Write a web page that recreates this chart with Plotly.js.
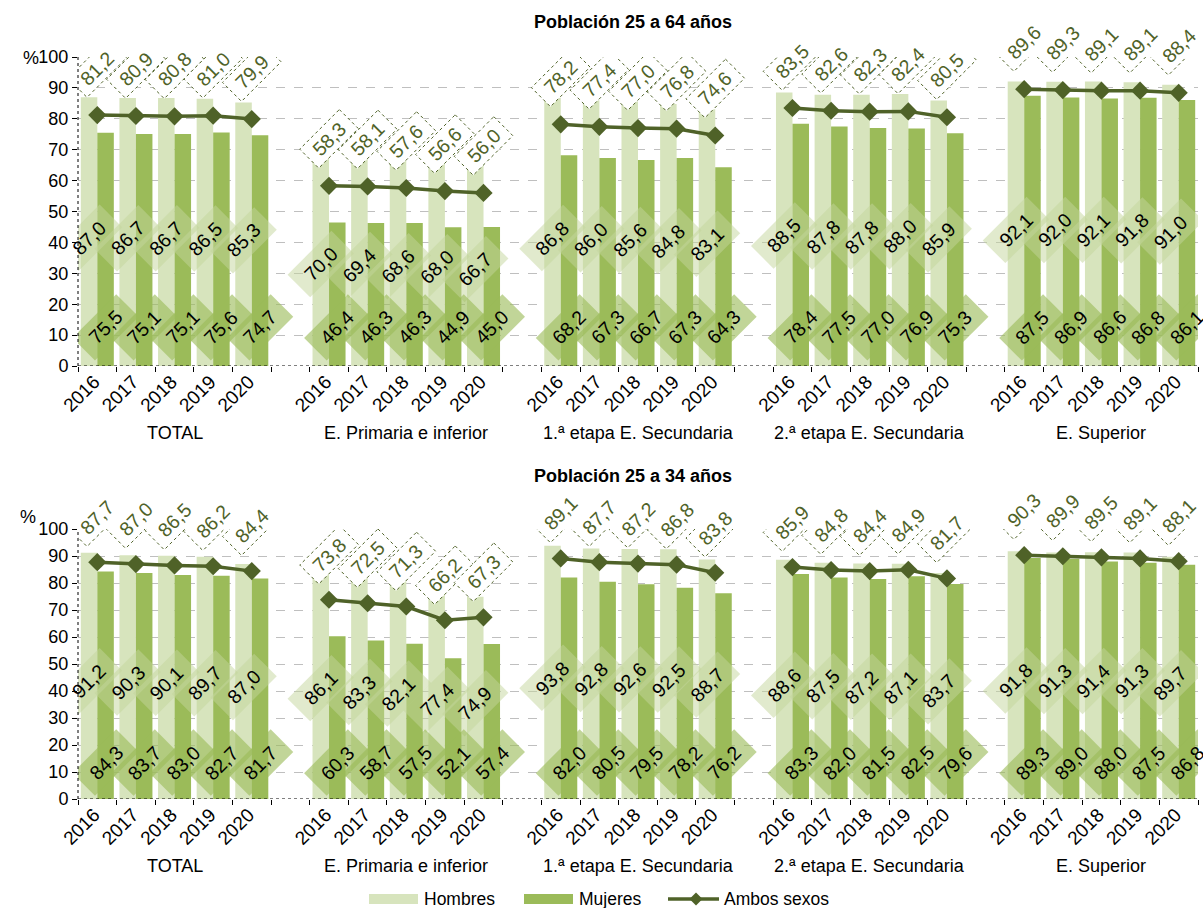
<!DOCTYPE html>
<html><head><meta charset="utf-8">
<script src="https://cdn.plot.ly/plotly-3.0.1.min.js"></script>
<style>html,body{margin:0;padding:0;background:#fff}#chart{width:1203px;height:908px}</style>
</head><body><div id="chart"></div>
<script>
// ---------- DATA ----------
const groups = ["TOTAL", "E. Primaria e inferior", "1.ª etapa E. Secundaria", "2.ª etapa E. Secundaria", "E. Superior"];
const years = ["2016", "2017", "2018", "2019", "2020"];
const panelTitles = ["Población 25 a 64 años", "Población 25 a 34 años"];
const seriesNames = ["Hombres", "Mujeres", "Ambos sexos"];

const hombres64 = [87.0,86.7,86.7,86.5,85.3, 70.0,69.4,68.6,68.0,66.7, 86.8,86.0,85.6,84.8,83.1, 88.5,87.8,87.8,88.0,85.9, 92.1,92.0,92.1,91.8,91.0];
const mujeres64 = [75.5,75.1,75.1,75.6,74.7, 46.4,46.3,46.3,44.9,45.0, 68.2,67.3,66.7,67.3,64.3, 78.4,77.5,77.0,76.9,75.3, 87.5,86.9,86.6,86.8,86.1];
const ambos64   = [81.2,80.9,80.8,81.0,79.9, 58.3,58.1,57.6,56.6,56.0, 78.2,77.4,77.0,76.8,74.6, 83.5,82.6,82.3,82.4,80.5, 89.6,89.3,89.1,89.1,88.4];

const hombres34 = [91.2,90.3,90.1,89.7,87.0, 86.1,83.3,82.1,77.4,74.9, 93.8,92.8,92.6,92.5,88.7, 88.6,87.5,87.2,87.1,83.7, 91.8,91.3,91.4,91.3,89.7];
const mujeres34 = [84.3,83.7,83.0,82.7,81.7, 60.3,58.7,57.5,52.1,57.4, 82.0,80.5,79.5,78.2,76.2, 83.3,82.0,81.5,82.5,79.6, 89.3,89.0,88.0,87.5,86.8];
const ambos34   = [87.7,87.0,86.5,86.2,84.4, 73.8,72.5,71.3,66.2,67.3, 89.1,87.7,87.2,86.8,83.8, 85.9,84.8,84.4,84.9,81.7, 90.3,89.9,89.5,89.1,88.1];

// ---------- STYLE ----------
const FONT = "Liberation Sans, Arial, sans-serif";
const C_H = "#d7e4bd", C_M = "#9bbb59", C_A = "#4f6228";
const W = 1203, H = 908, ML = 78, MR = 5, MT = 57, MB = 109;
const plotW = W - ML - MR, plotH = H - MT - MB;
const topPanel = {y0px: 57, y1px: 366};
const botPanel = {y0px: 529, y1px: 799};
const pyToPaper = py => (H - MB - py) / plotH;
const pxToPaper = px => (px - ML) / plotW;

const nG = groups.length, nY = years.length, step = nY + 1;
const xs = [], tickText = [];
groups.forEach((g, gi) => years.forEach((y, yi) => { xs.push(gi * step + yi); tickText.push(y); }));
const lineX = [], idxMap = [];
groups.forEach((g, gi) => { years.forEach((y, yi) => { lineX.push(gi * step + yi); idxMap.push(gi * nY + yi); }); if (gi < nG - 1) { lineX.push(gi * step + nY); idxMap.push(-1); } });
const fmt = v => v.toFixed(1).replace(".", ",");

function rectPath(a, b, dy) {
  const k = Math.SQRT1_2;
  const pts = [[k*(a-b), k*(a+b)], [k*(a+b), k*(a-b)], [-k*(a-b), -k*(a+b)], [-k*(a+b), -k*(a-b)]];
  return "M" + pts.map(p => p[0].toFixed(1) + "," + (p[1] + dy).toFixed(1)).join(" L") + " Z";
}

const traces = [], shapes = [], annotations = [];
const panels = [
  {h: hombres64, m: mujeres64, a: ambos64, xa: "x", ya: "y", mujY: 12.5, shift: 47},
  {h: hombres34, m: mujeres34, a: ambos34, xa: "x2", ya: "y2", mujY: 13.5, shift: 45}
];
const barOff = 0.214;
const LBL = 19.5;
panels.forEach((p, pi) => {
  traces.push({type: "bar", name: seriesNames[0], x: xs, y: p.h, xaxis: p.xa, yaxis: p.ya, marker: {color: C_H}, showlegend: false, hoverinfo: "none"});
  traces.push({type: "bar", name: seriesNames[1], x: xs, y: p.m, xaxis: p.xa, yaxis: p.ya, marker: {color: C_M}, showlegend: false, hoverinfo: "none"});
  traces.push({type: "scatter", mode: "lines+markers", name: seriesNames[2], x: lineX, y: idxMap.map(i => i < 0 ? null : p.a[i]),
    xaxis: p.xa, yaxis: p.ya, connectgaps: false, line: {color: C_A, width: 3.5}, marker: {symbol: "diamond", size: 14, color: C_A}, showlegend: false, hoverinfo: "none"});
  const xr = p.xa, yr = p.ya;
  xs.forEach((x, i) => {
    const yv = p.h[i] / 2 - 2;
    shapes.push({type: "path", xref: xr, yref: yr, xsizemode: "pixel", ysizemode: "pixel", xanchor: x - barOff, yanchor: yv,
      path: rectPath(31, 16, 0), fillcolor: "rgba(195,214,155,0.5)", line: {width: 0}, layer: "above"});
    annotations.push({xref: xr, yref: yr, x: x - barOff, y: yv, yanchor: "middle", text: fmt(p.h[i]), showarrow: false, textangle: -45,
      font: {family: FONT, size: LBL, color: "#000"}});
  });
  xs.forEach((x, i) => {
    shapes.push({type: "path", xref: xr, yref: yr, xsizemode: "pixel", ysizemode: "pixel", xanchor: x + barOff, yanchor: p.mujY,
      path: rectPath(31, 16, 0), fillcolor: "rgba(155,187,89,0.62)", line: {width: 0}, layer: "above"});
    annotations.push({xref: xr, yref: yr, x: x + barOff, y: p.mujY, yanchor: "middle", text: fmt(p.m[i]), showarrow: false, textangle: -45,
      font: {family: FONT, size: LBL, color: "#000"}});
  });
  xs.forEach((x, i) => {
    shapes.push({type: "path", xref: xr, yref: yr, xsizemode: "pixel", ysizemode: "pixel", xanchor: x, yanchor: p.a[i],
      path: rectPath(28, 13.5, p.shift), fillcolor: "#ffffff", line: {width: 1, color: C_A, dash: "dot"}, layer: "above"});
    annotations.push({xref: xr, yref: yr, x: x, y: p.a[i], yanchor: "middle", yshift: p.shift, text: fmt(p.a[i]), showarrow: false, textangle: -45,
      font: {family: FONT, size: LBL, color: C_A}});
  });
  shapes.push({type: "line", xref: xr + " domain", yref: yr, x0: 0, x1: 0, y0: 0, y1: 100, line: {color: "#000", width: 1, dash: "dot"}, layer: "above"});
  shapes.push({type: "line", xref: xr + " domain", yref: yr, x0: 0, x1: 1, y0: 0, y1: 0, line: {color: "#000", width: 1, dash: "dot"}, layer: "above"});
  groups.forEach((g, gi) => {
    annotations.push({xref: xr, yref: yr, x: gi * step + (nY - 1) / 2, y: 0, yanchor: "middle", yshift: -67, text: g, showarrow: false,
      font: {family: FONT, size: 18, color: "#000"}});
  });
});
annotations.push({xref: "paper", yref: "paper", x: pxToPaper(633), y: pyToPaper(22), yanchor: "middle", text: "<b>" + panelTitles[0] + "</b>", showarrow: false, font: {family: FONT, size: 18, color: "#000"}});
annotations.push({xref: "paper", yref: "paper", x: pxToPaper(633), y: pyToPaper(476), yanchor: "middle", text: "<b>" + panelTitles[1] + "</b>", showarrow: false, font: {family: FONT, size: 18, color: "#000"}});
annotations.push({xref: "paper", yref: "paper", x: pxToPaper(21), y: pyToPaper(58), yanchor: "middle", text: "%", showarrow: false, font: {family: FONT, size: 18, color: "#000"}});
annotations.push({xref: "paper", yref: "paper", x: pxToPaper(18), y: pyToPaper(517), yanchor: "middle", text: "%", showarrow: false, font: {family: FONT, size: 18, color: "#000"}});

// manual legend
const legY = 899;
shapes.push({type: "rect", xref: "paper", yref: "paper", x0: pxToPaper(369), x1: pxToPaper(418), y0: pyToPaper(894), y1: pyToPaper(904), fillcolor: C_H, line: {width: 0}});
shapes.push({type: "rect", xref: "paper", yref: "paper", x0: pxToPaper(524), x1: pxToPaper(573), y0: pyToPaper(894), y1: pyToPaper(904), fillcolor: C_M, line: {width: 0}});
shapes.push({type: "line", xref: "paper", yref: "paper", x0: pxToPaper(668), x1: pxToPaper(719), y0: pyToPaper(legY), y1: pyToPaper(legY), line: {color: C_A, width: 3.5}});
shapes.push({type: "path", xref: "paper", yref: "paper", xsizemode: "pixel", ysizemode: "pixel", xanchor: pxToPaper(696), yanchor: pyToPaper(legY),
  path: "M0,6.5 L6.5,0 L0,-6.5 L-6.5,0 Z", fillcolor: C_A, line: {width: 0}});
[[seriesNames[0], 422], [seriesNames[1], 577], [seriesNames[2], 722]].forEach(([t, px]) => {
  annotations.push({xref: "paper", yref: "paper", x: pxToPaper(px), y: pyToPaper(legY), xanchor: "left", yanchor: "middle", text: t, showarrow: false, font: {family: FONT, size: 17.5, color: "#000"}});
});

const xaxisBase = {range: [-0.5, xs[xs.length - 1] + 0.5], tickmode: "array", tickvals: xs, ticktext: tickText, tickangle: -45,
  ticks: "", showgrid: false, zeroline: false, showline: false, tickfont: {family: FONT, size: 19, color: "#000"}, ticklabelshift: -3,
  minor: {tickmode: "linear", tick0: -0.5, dtick: 1, ticks: "outside", ticklen: 5, tickcolor: "#000", tickwidth: 1, showgrid: false}};
const yaxisBase = {range: [0, 100], dtick: 10, tick0: 0, ticks: "outside", ticklen: 5, tickcolor: "#000", showline: false, zeroline: false,
  showgrid: true, gridcolor: "#bfbfbf", griddash: "dash", gridwidth: 1, tickfont: {family: FONT, size: 18, color: "#000"}, fixedrange: true};

const layout = {
  width: W, height: H, margin: {l: ML, r: MR, t: MT, b: MB}, paper_bgcolor: "#fff", plot_bgcolor: "#fff",
  barmode: "group", bargap: 0.145, bargroupgap: 0, showlegend: false,
  xaxis: Object.assign({}, xaxisBase, {anchor: "y"}),
  yaxis: Object.assign({}, yaxisBase, {domain: [pyToPaper(topPanel.y1px), pyToPaper(topPanel.y0px)]}),
  xaxis2: Object.assign({}, xaxisBase, {anchor: "y2"}),
  yaxis2: Object.assign({}, yaxisBase, {domain: [pyToPaper(botPanel.y1px), pyToPaper(botPanel.y0px)]}),
  shapes: shapes, annotations: annotations, font: {family: FONT}
};
Plotly.newPlot("chart", traces, layout, {displayModeBar: false, staticPlot: true});
</script></body></html>
